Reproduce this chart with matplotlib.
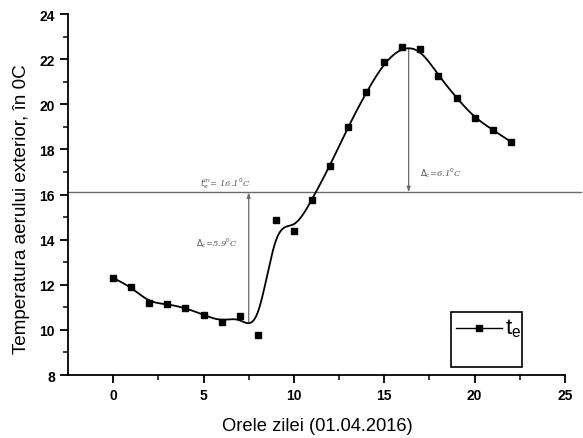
import numpy as np
import matplotlib
matplotlib.use("Agg")
import matplotlib.pyplot as plt
from matplotlib.patches import Rectangle
from matplotlib.lines import Line2D

# Hourly outdoor air temperature, 01.04.2016
hours = [0, 1, 2, 3, 4, 5, 6, 7, 8, 9, 10, 11, 12, 13, 14, 15, 16, 17, 18, 19, 20, 21, 22]
temp_e = [12.3, 11.9, 11.2, 11.15, 10.97, 10.67, 10.36, 10.6, 9.79, 14.88, 14.37, 15.77,
          17.28, 19.0, 20.53, 21.86, 22.56, 22.46, 21.27, 20.28, 19.4, 18.87, 18.34]

t_mean = 16.1          # mean daily temperature
x_low, x_high = 7.5, 16.35   # hours of the two deviation markers
dev_low_label = "$\\Delta_c$=5.9$^0$C"
dev_high_label = "$\\Delta_c$=6.1$^0$C"
mean_label = "$t_e^m$= 16.1$^0$C"

x_ticks = [0, 5, 10, 15, 20, 25]
y_ticks = [8, 10, 12, 14, 16, 18, 20, 22, 24]


def bspline(px, py, samples=40):
    """Uniform cubic B-spline with the data as control points (clamped ends)."""
    px = np.r_[px[0], px[0], px, px[-1], px[-1]]
    py = np.r_[py[0], py[0], py, py[-1], py[-1]]
    t = np.linspace(0, 1, samples, endpoint=False)
    b0 = (1 - t) ** 3 / 6
    b1 = (3 * t**3 - 6 * t**2 + 4) / 6
    b2 = (-3 * t**3 + 3 * t**2 + 3 * t + 1) / 6
    b3 = t**3 / 6
    xs, ys = [], []
    for j in range(len(px) - 3):
        xs.append(b0 * px[j] + b1 * px[j + 1] + b2 * px[j + 2] + b3 * px[j + 3])
        ys.append(b0 * py[j] + b1 * py[j + 1] + b2 * py[j + 2] + b3 * py[j + 3])
    xs.append([px[-1]]); ys.append([py[-1]])
    return np.concatenate(xs), np.concatenate(ys)


plt.rcParams['font.family'] = ['Liberation Sans', 'DejaVu Sans']

fig = plt.figure(figsize=(5.83, 4.39), dpi=100)
ax = fig.add_axes([0.1166, 0.1435, 0.8525, 0.8223])

cx, cy = bspline(np.array(hours, float), np.array(temp_e, float))
ax.plot(cx, cy, color='black', lw=1.3, zorder=3)
ax.plot(hours, temp_e, ls='none', marker='s', ms=4.2, color='black', zorder=4)

# mean temperature line
ax.plot([-2.5, 25.9], [t_mean, t_mean], color='#6a6a6a', lw=1.0, clip_on=False, zorder=2)

# deviation markers from the curve to the mean line
y_low = np.interp(x_low, cx, cy)
ip = np.argmin(np.abs(cx - x_high))
y_high = cy[ip]
arrow_kw = dict(arrowstyle='-|>,head_length=0.3,head_width=0.1', color='#6a6a6a', lw=0.9,
                shrinkA=0, shrinkB=0)
ax.annotate('', xy=(x_low, t_mean), xytext=(x_low, y_low), arrowprops=arrow_kw, zorder=2)
ax.annotate('', xy=(x_high, t_mean), xytext=(x_high, y_high), arrowprops=arrow_kw, zorder=2)

txt_kw = dict(fontsize=6, color='#555555', style='italic', family='DejaVu Serif')
ax.text(6.2, 16.55, mean_label, ha='center', va='center', **txt_kw)
ax.text(6.9, 13.9, dev_low_label, ha='right', va='center', **txt_kw)
ax.text(17.0, 17.0, dev_high_label, ha='left', va='center', **txt_kw)

ax.set_xlim(-2.5, 25)
ax.set_ylim(8, 24)
ax.set_xticks(x_ticks)
ax.set_yticks(y_ticks)
ax.set_xticks(np.arange(2.5, 25, 5), minor=True)
ax.set_yticks(np.arange(9, 24, 2), minor=True)
for s in ('top', 'right'):
    ax.spines[s].set_visible(False)
for s in ('left', 'bottom'):
    ax.spines[s].set_linewidth(1.3)
ax.tick_params(which='major', direction='out', length=6, width=1.3, labelsize=10)
ax.tick_params(which='minor', direction='out', length=3.5, width=1.1)
for lab in ax.get_xticklabels() + ax.get_yticklabels():
    lab.set_fontweight('bold')

ax.set_xlabel('Orele zilei (01.04.2016)', fontsize=13.2, va='center')
ax.set_ylabel('Temperatura aerului exterior, în 0C', fontsize=13.6, va='center')
ax.xaxis.set_label_coords(0.502, -0.139)
ax.yaxis.set_label_coords(-0.093, 0.463)

# legend box
ax.add_patch(Rectangle((0.771, 0.022), 0.142, 0.153, transform=ax.transAxes,
                       fill=False, ec='black', lw=1.2, zorder=5))
ax.add_line(Line2D([0.781, 0.873], [0.13, 0.13], transform=ax.transAxes,
                   color='black', lw=1.0, zorder=5))
ax.add_line(Line2D([0.827], [0.13], transform=ax.transAxes, ls='none', marker='s',
                   ms=4.2, color='black', zorder=5))
ax.text(0.879, 0.13, '$\\mathregular{t_e}$', transform=ax.transAxes, fontsize=16,
        ha='left', va='center', zorder=5)

fig.savefig('out.png', dpi=100)
